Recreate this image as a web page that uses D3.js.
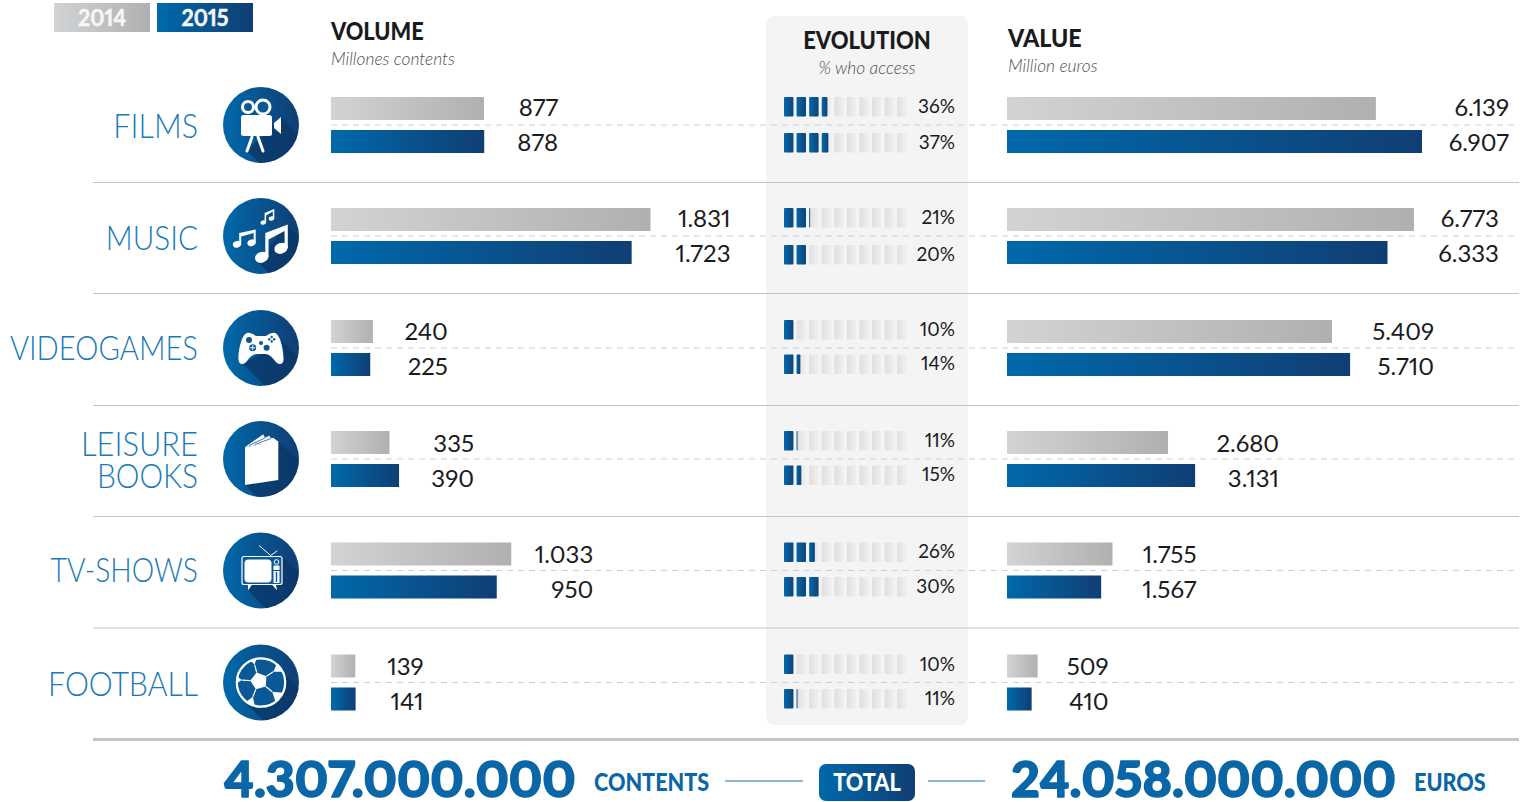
<!DOCTYPE html>
<html><head><meta charset="utf-8">
<script src="https://cdn.jsdelivr.net/npm/d3@7/dist/d3.min.js"></script>
<style>html,body{margin:0;padding:0;background:#fff}svg{display:block;font-family:Lato,sans-serif;font-variant-numeric:proportional-nums}</style>
</head><body><svg id="c" width="1526" height="802"></svg>
<script>
const categories=["FILMS","MUSIC","VIDEOGAMES","LEISURE BOOKS","TV-SHOWS","FOOTBALL"];
const years=["2014","2015"];
const volume2014=[877,1831,240,335,1033,139];
const volume2015=[878,1723,225,390,950,141];
const access2014=[36,21,10,11,26,10];
const access2015=[37,20,14,15,30,11];
const value2014=[6139,6773,5409,2680,1755,509];
const value2015=[6907,6333,5710,3131,1567,410];
const totalContents="4.307.000.000", totalEuros="24.058.000.000";

const rowCenters=[125,236,348,459,570.5,682.5];
const volGap=[74,80,75,75,82,68], valGap=[87,85,84,84,84,71];
const cellOffset2015=[8,9,6.5,6.5,6.5,6.5];
const numberNudge=[-.5,0,1,1.5,1,1];
const labelBase=[13,14,12,0,11.5,13];
const labelSqueeze={"FILMS":.925,"MUSIC":.9,"VIDEOGAMES":.885,"LEISURE":.935,"BOOKS":.905,"TV-SHOWS":.86,"FOOTBALL":.915};
const svg=d3.select("#c"), defs=svg.append("defs");
const fmt=d3.formatLocale({decimal:",",thousands:".",grouping:[3],currency:["",""]}).format(",d");
const BLUE="#1a7ab6", DARK="#1b1b1d", NAVY="#0a66a6";

function grad(id,a,b){const g=defs.append("linearGradient").attr("id",id);
  g.append("stop").attr("offset",0).attr("stop-color",a);g.append("stop").attr("offset",1).attr("stop-color",b);}
grad("gGrey","#d2d3d5","#b0b0b1");grad("gBlue","#0069aa","#103e74");
grad("gCell","#dfdfdf","#f0f0f0");grad("gCellB","#0069aa","#104379");

const xVol=d3.scaleLinear().domain([0,1831]).range([0,319.5]);
const xVal=d3.scaleLinear().domain([0,6907]).range([0,415]);
const xCell=d3.scaleBand().domain(d3.range(10)).range([784,906.7]).paddingInner(0.25).paddingOuter(0).align(0);
const pctCell=d3.scaleLinear().domain([0,10]).range([0,1]);

// text with a horizontal squeeze, so Lato takes the narrower width of the original lettering
function label(x,y,t,o){
  const s=o.sx||1, anchor=o.anchor||"start";
  const e=svg.append("text").attr("transform",`translate(${x},${y}) scale(${s},1)`).attr("text-anchor",anchor)
    .attr("font-size",o.size).attr("font-weight",o.weight||400).attr("fill",o.fill).text(t);
  if(o.style)e.attr("font-style",o.style);
  if(o.stroke)e.attr("stroke",o.fill).attr("stroke-width",o.stroke).attr("stroke-linejoin","round");
  return e;
}

// legend
years.forEach((y,i)=>{const x=54+i*103;
  svg.append("rect").attr("x",x).attr("y",3).attr("width",96).attr("height",29).attr("fill",i?"url(#gBlue)":"url(#gGrey)");
  label(x+48,26,y,{anchor:"middle",size:22,weight:700,fill:"#f6f6f6",stroke:.5,sx:.97});
});

// evolution panel
svg.append("rect").attr("x",766).attr("y",16).attr("width",202).attr("height",709).attr("rx",8).attr("fill","#f4f4f4");

// headers
const head={size:25,weight:900,fill:DARK,sx:.87}, sub={size:17.4,weight:300,style:"italic",fill:"#4f4f4f"};
label(331,40,"VOLUME",head);label(331,65,"Millones contents",sub);
label(867,49,"EVOLUTION",{...head,anchor:"middle",sx:.88});label(867,74,"% who access",{...sub,anchor:"middle"});
label(1008,47,"VALUE",{...head,sx:.93});label(1008,72,"Million euros",sub);

// row lines
rowCenters.forEach((c,i)=>{
  svg.append("line").attr("x1",331).attr("x2",1519).attr("y1",c).attr("y2",c).attr("stroke","#cfcfcf").attr("stroke-width",1).attr("stroke-dasharray","6 5");
  if(i<5)svg.append("line").attr("x1",93).attr("x2",1519).attr("y1",c+57.5).attr("y2",c+57.5).attr("stroke","#c4c4c4").attr("stroke-width",1);
});
svg.append("line").attr("x1",93).attr("x2",1519).attr("y1",739.5).attr("y2",739.5).attr("stroke","#c6c6c6").attr("stroke-width",3);

// category labels
categories.forEach((n,i)=>{
  const c=rowCenters[i], parts=n==="LEISURE BOOKS"?["LEISURE","BOOKS"]:[n];
  parts.forEach((p,k)=>label(198,parts.length>1?c-3+k*32:c+labelBase[i],p,{anchor:"end",size:33,weight:300,fill:BLUE,sx:labelSqueeze[p]}));
});

// bars + labels
function barCol(x0,scale,a,b,gaps){
  categories.forEach((_,i)=>{
    const c=rowCenters[i], end=x0+scale(Math.max(a[i],b[i]))+gaps[i], n=numberNudge[i];
    [a[i],b[i]].forEach((v,k)=>{
      svg.append("rect").attr("x",x0).attr("y",k?c+5:c-28).attr("width",scale(v)).attr("height",23).attr("fill",k?"url(#gBlue)":"url(#gGrey)");
      label(end,(k?c+26:c-9)+n,fmt(v),{anchor:"end",size:24,fill:DARK});
    });
  });
}
barCol(331,xVol,volume2014,volume2015,volGap);
barCol(1007,xVal,value2014,value2015,valGap);

// evolution cells
categories.forEach((_,i)=>{
  const c=rowCenters[i];
  [access2014[i],access2015[i]].forEach((v,k)=>{
    const y=k?c+cellOffset2015[i]:c-28;
    d3.range(10).forEach(j=>{
      const w=xCell.bandwidth(), f=Math.max(0,Math.min(1,pctCell(v-j*10)));
      svg.append("rect").attr("x",xCell(j)).attr("y",y).attr("width",w).attr("height",19.5).attr("rx",1).attr("fill","url(#gCell)");
      if(f>0)svg.append("rect").attr("x",xCell(j)).attr("y",y).attr("width",w*f).attr("height",19.5).attr("rx",1).attr("fill","url(#gCellB)");
    });
    label(955,y+15.5+(k===0&&(i===0||i===5)?.7:0),v+"%",{anchor:"end",size:19,fill:DARK});
  });
});

// icons
const cid="iconClip";
defs.append("clipPath").attr("id",cid).append("circle").attr("r",38);
function icon(i,shadow,draw){
  const g=svg.append("g").attr("transform",`translate(261,${rowCenters[i]})`);
  g.append("circle").attr("r",38).attr("fill","url(#gBlue)");
  const [p,q]=shadow;
  g.append("polygon").attr("clip-path",`url(#${cid})`).attr("fill","#0b3566").attr("opacity",.75)
    .attr("points",[p,[p[0]+60,p[1]+60],[q[0]+60,q[1]+60],q].map(d=>d.join(",")).join(" "));
  draw(g);
}
const W="#fff", B="#0a5895";
// film camera
icon(0,[[20,-8],[-14,26]],g=>{
  g.append("rect").attr("x",-20).attr("y",-10).attr("width",31).attr("height",21).attr("rx",2.5).attr("fill",W);
  [[-13,-18,6.5],[2,-18,8]].forEach(d=>g.append("circle").attr("cx",d[0]).attr("cy",d[1]).attr("r",d[2]-1).attr("fill",B).attr("stroke",W).attr("stroke-width",3));
  g.append("polygon").attr("points","13,-2 20,-8 20,9 13,3").attr("fill",W);
  [[-9,12,-14,26],[-3,12,2,26]].forEach(d=>g.append("line").attr("x1",d[0]).attr("y1",d[1]).attr("x2",d[2]).attr("y2",d[3]).attr("stroke",W).attr("stroke-width",3).attr("stroke-linecap","round"));
});
// music
icon(1,[[26,-11],[-4,25]],g=>{
  const note=(h1,h2,rx,ry,sw,bw)=>{
    [h1,h2].forEach(h=>g.append("ellipse").attr("cx",h[0]).attr("cy",h[1]).attr("rx",rx).attr("ry",ry).attr("transform",`rotate(-20 ${h[0]} ${h[1]})`).attr("fill",W));
    const lx=h1[0]+rx-sw/2, rxx=h2[0]+rx-sw/2, lt=h1[2], rt=h2[2];
    g.append("path").attr("d",`M${lx-sw/2},${h1[1]} L${lx-sw/2},${lt} L${rxx+sw/2},${rt} L${rxx+sw/2},${h2[1]} L${rxx-sw/2},${h2[1]} L${rxx-sw/2},${rt+bw} L${lx+sw/2},${lt+bw} L${lx+sw/2},${h1[1]}Z`).attr("fill",W);
  };
  note([0.7,21.3,-3],[20,12.3,-11.5],6.8,5.4,3.2,6.5);
  note([-24,8.3,-3],[-9.5,6.8,-6.5],4.2,3.3,2,3.5);
  note([2.3,-13.5,-23],[10.5,-17.5,-27],2.8,2.2,1.5,2.5);
});
// game pad
icon(2,[[22,-6],[-18,16]],g=>{
  g.append("path").attr("fill",W).attr("d","M-14,-15 C-10,-16 -7,-13 -5,-12 L5,-12 C7,-13 10,-16 14,-15 C20,-13 23,5 22.5,12 C22,17 17,17 14,13 C11,9 8,6 4,6 L-4,6 C-8,6 -11,9 -14,13 C-17,17 -22,17 -22.5,12 C-23,5 -20,-13 -14,-15Z");
  [[-12,-8,3],[-8.3,-.3,3.5],[0,-5,2],[5.6,-.3,3],[10.7,-11,1.2],[10.7,-6.5,1.2],[8.2,-8.7,1.2],[13.2,-8.7,1.2]].forEach(d=>g.append("circle").attr("cx",d[0]).attr("cy",d[1]).attr("r",d[2]).attr("fill",B));
  g.append("path").attr("d","M-8.3,-2.8V2.2M-10.8,-.3H-5.8").attr("stroke",W).attr("stroke-width",1);
});
// book
icon(3,[[17.3,-18],[-16,26]],g=>{
  g.append("polygon").attr("fill",W).attr("points","-16,-11.7 17.3,-18 17.3,21 -16,26");
  g.append("polygon").attr("fill",W).attr("points","-16,-12 2.3,-24.7 4,-21.3 8.3,-23.3 10,-20.7 12.3,-21.3 17.3,-17.3");
  g.append("path").attr("fill","none").attr("stroke",B).attr("stroke-width",.8).attr("d","M-12,-13.5 L4,-21 M-6,-14.5 L10,-20.5");
});
// tv
icon(4,[[21,-14],[-14,19]],g=>{
  g.append("rect").attr("x",-19).attr("y",-14).attr("width",40).attr("height",28).attr("rx",2).attr("fill",B).attr("stroke",W).attr("stroke-width",1.2);
  g.append("rect").attr("x",-16.5).attr("y",-11).attr("width",27).attr("height",23).attr("rx",4).attr("fill",W);
  g.append("circle").attr("cx",15.5).attr("cy",-8.5).attr("r",2.3).attr("fill","none").attr("stroke",W).attr("stroke-width",1);
  g.append("rect").attr("x",12.5).attr("y",-5).attr("width",6).attr("height",4.5).attr("fill",W);
  g.append("rect").attr("x",12.5).attr("y",.5).attr("width",6).attr("height",12).attr("fill",W);
  g.append("line").attr("x1",15.5).attr("x2",15.5).attr("y1",1.5).attr("y2",11.5).attr("stroke",B).attr("stroke-width",1.4);
  g.append("path").attr("fill","none").attr("stroke",W).attr("stroke-width",1).attr("d","M-2,-25 L9.7,-15 L16.3,-19.7");
  g.append("path").attr("fill",W).attr("d","M-13,14 L-9,14 L-13,20Z M11,14 L15,14 L16,20Z");
});
// football
defs.append("clipPath").attr("id","ball").append("circle").attr("r",24);
icon(5,[[24,-8],[-18,18]],g=>{
  g.append("circle").attr("r",24.2).attr("fill",B).attr("stroke",W).attr("stroke-width",2.2);
  const c=[-2,-1.5], pol=(r,a)=>[c[0]+r*Math.cos(a),c[1]+r*Math.sin(a)], rad=Math.PI/180, rot=-105;
  const cen=d3.range(5).map(k=>pol(8.8,(rot+72*k)*rad));
  g.append("polygon").attr("fill",W).attr("points",cen.map(d=>d.join(",")).join(" "));
  const b=g.append("g").attr("clip-path","url(#ball)");
  d3.range(5).forEach(k=>{const a=pol(8.8,(rot+72*k)*rad), o=pol(17,(rot+72*k)*rad);
    b.append("line").attr("x1",a[0]).attr("y1",a[1]).attr("x2",o[0]).attr("y2",o[1]).attr("stroke",W).attr("stroke-width",1.2);
    const t=(rot+72*k)*rad, l=pol(30,t-.26), r=pol(30,t+.26);
    b.append("polygon").attr("fill",W).attr("points",[o,l,r].map(d=>d.join(",")).join(" "));});
});

// totals
const big={size:50,weight:900,fill:NAVY,sx:1.0,stroke:1.6}, small={size:24,weight:900,fill:NAVY,sx:.9};
label(224,797,totalContents,big);
label(594,791,"CONTENTS",small);
label(1011,797,totalEuros,big);
label(1414,791,"EUROS",small);
[[725,803],[928,985]].forEach(d=>svg.append("line").attr("x1",d[0]).attr("x2",d[1]).attr("y1",781).attr("y2",781).attr("stroke","#1a6ea8").attr("stroke-width",1.2));
svg.append("rect").attr("x",819).attr("y",764).attr("width",96).attr("height",37).attr("rx",7).attr("fill","url(#gBlue)");
label(867,791,"TOTAL",{...small,fill:"#fff",anchor:"middle"});
</script></body></html>
